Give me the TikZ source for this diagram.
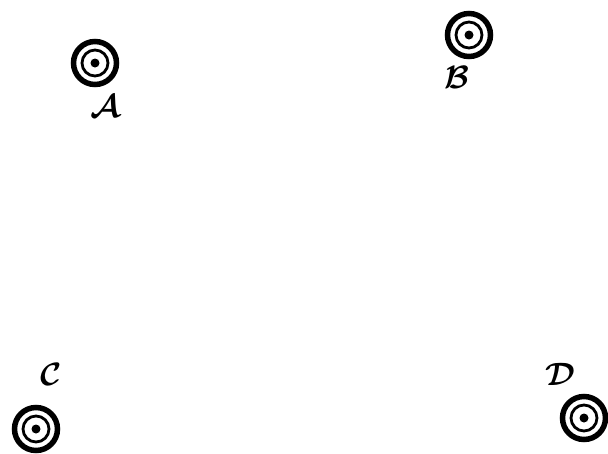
\documentclass[tikz,border=0pt]{standalone}
\usepackage{graphicx}
\usetikzlibrary{positioning}

\newcommand{\hand}[1]{\scalebox{1.3}{$\mathcal{#1}$}}

\begin{document}
\begin{tikzpicture}[x=1pt, y=-1pt,
    target/.style={circle, inner sep=0pt, minimum size=50pt, path picture={
        \fill (path picture bounding box.center) circle (4.5pt);
        \draw[line width=2.8pt] (path picture bounding box.center) circle (13pt);
        \draw[line width=5.5pt] (path picture bounding box.center) circle (21.5pt);}},
    tag/.style={inner sep=0pt, font=\fontsize{24.88}{28}\selectfont\boldmath}
]
\useasboundingbox (0,0) rectangle (608,453);

\node[target] (a) at (95,63) {};
\node[target] (b) at (469,35) {};
\node[target] (c) at (36,429) {};
\node[target] (d) at (584,418) {};

\node[tag] (la) at (105,106) {\hand{A}};
\node[tag] (lb) at (457,77) {\hand{B}};
\node[tag] (lc) at (51,374) {\hand{C}};
\node[tag] (ld) at (560,374) {\hand{D}};

\end{tikzpicture}
\end{document}
